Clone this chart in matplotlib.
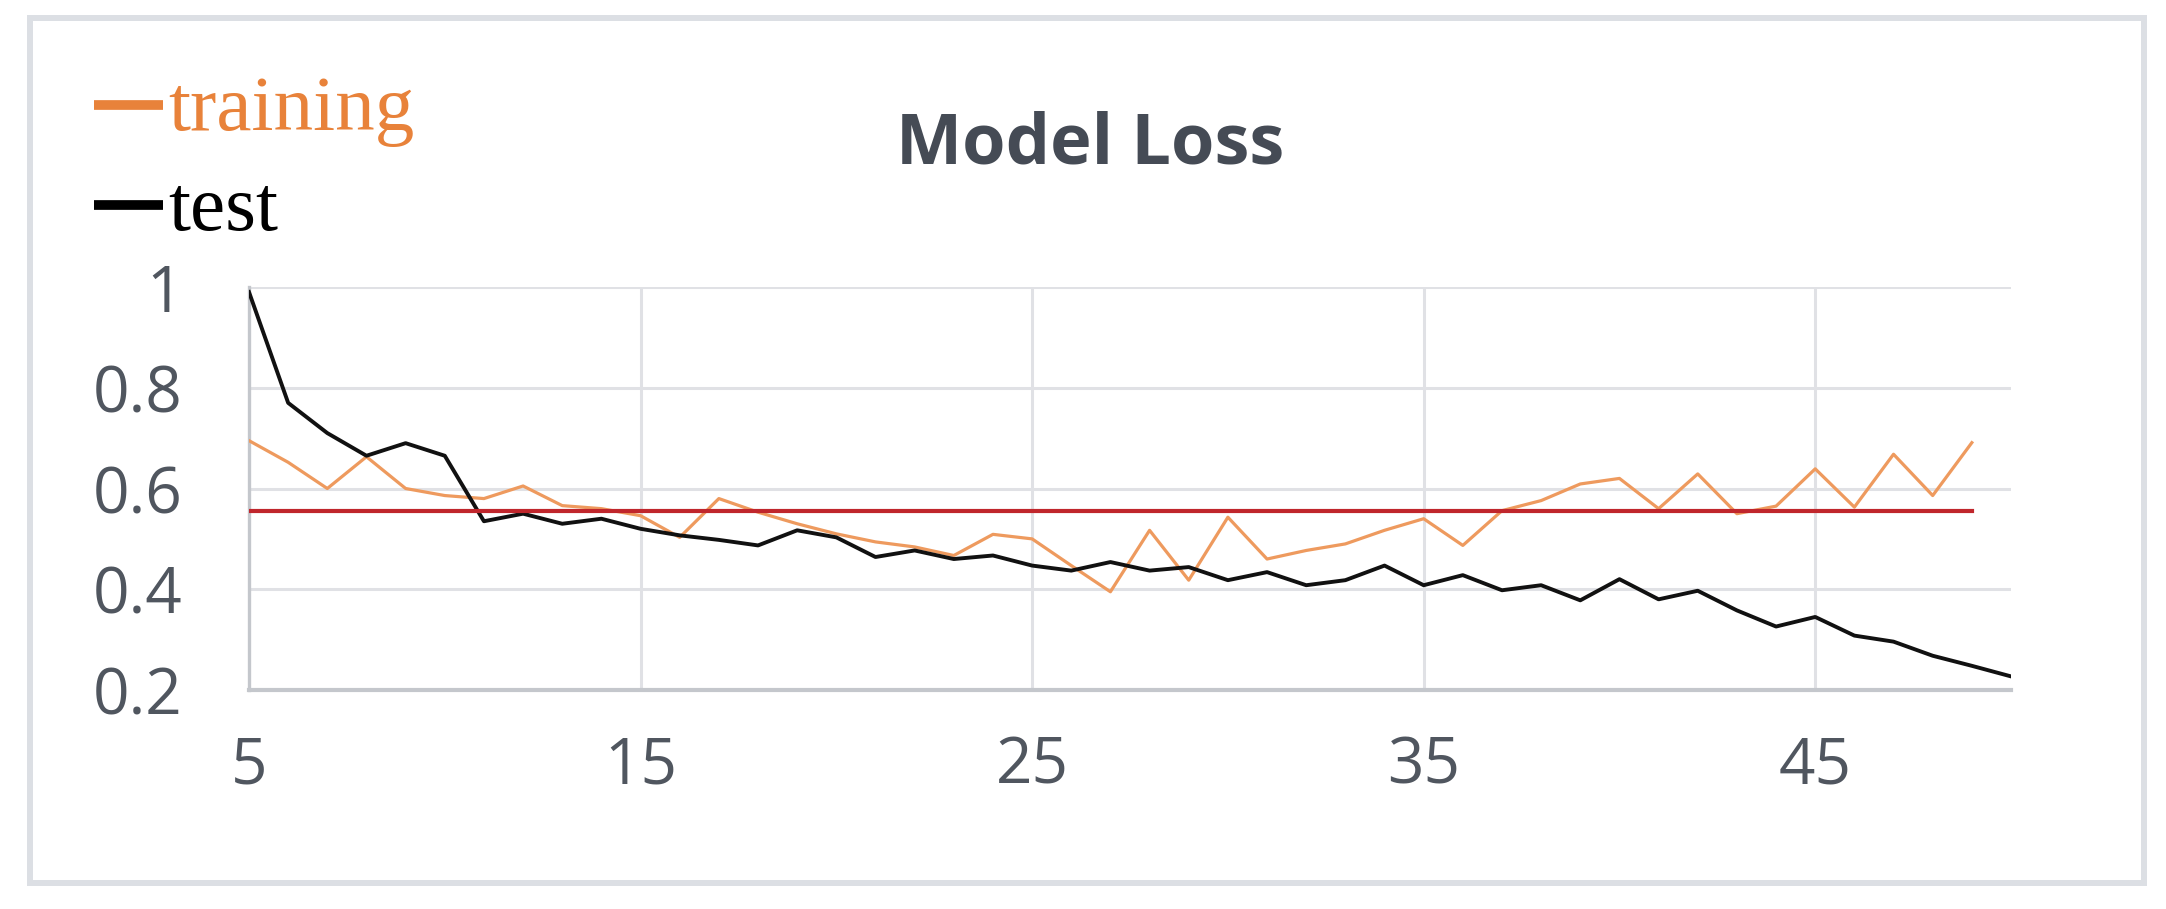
import matplotlib
matplotlib.use("Agg")
import matplotlib.pyplot as plt
from matplotlib.lines import Line2D
from matplotlib.patches import Rectangle

# ---------------- data ----------------
epochs_test = list(range(5, 51))
test_loss = [0.99, 0.77, 0.71, 0.665, 0.69, 0.665, 0.535, 0.55, 0.53, 0.54,
             0.52, 0.507, 0.498, 0.487, 0.517, 0.503, 0.464, 0.477, 0.46, 0.467,
             0.447, 0.437, 0.454, 0.437, 0.444, 0.418, 0.434, 0.408, 0.418, 0.447,
             0.408, 0.428, 0.398, 0.408, 0.378, 0.42, 0.38, 0.397, 0.358, 0.326,
             0.345, 0.308, 0.296, 0.268, 0.248, 0.227]

epochs_train = list(range(5, 50))
train_loss = [0.695, 0.652, 0.60, 0.663, 0.60, 0.586, 0.58, 0.605, 0.566, 0.56,
              0.546, 0.503, 0.58, 0.553, 0.53, 0.51, 0.494, 0.484, 0.467, 0.509,
              0.50, 0.447, 0.395, 0.517, 0.418, 0.543, 0.46, 0.477, 0.49, 0.517,
              0.54, 0.487, 0.556, 0.576, 0.609, 0.62, 0.56, 0.629, 0.55, 0.565,
              0.639, 0.563, 0.668, 0.586, 0.691]

ref_x = [5, 49]
ref_y = [0.555, 0.555]

x_ticks = [5, 15, 25, 35, 45]
y_ticks = [0.2, 0.4, 0.6, 0.8, 1.0]
y_tick_labels = ["0.2", "0.4", "0.6", "0.8", "1"]

title_text = "Model Loss"
legend_labels = ["training", "test"]

# ---------------- figure ----------------
W, H = 2166, 909
fig = plt.figure(figsize=(W / 100, H / 100), dpi=100)
fig.patch.set_facecolor("white")

def fx(px):
    return px / W

def fy(py):
    return 1 - py / H

# outer border
fig.add_artist(Rectangle((fx(30), fy(883)), fx(2144) - fx(30), fy(18) - fy(883),
                         transform=fig.transFigure, fill=False,
                         edgecolor="#DCDFE4", linewidth=4.3))

ax = fig.add_axes([fx(249), fy(690), fx(2011) - fx(249), fy(287) - fy(690)])
ax.set_xlim(5, 50)
ax.set_ylim(0.2, 1.0)

grid_c = "#E0E1E5"
for v in y_ticks[1:]:
    ax.axhline(v, color=grid_c, lw=2.2, zorder=0)
for v in x_ticks[1:]:
    ax.axvline(v, color=grid_c, lw=2.2, zorder=0)

for s in ["top", "right"]:
    ax.spines[s].set_visible(False)
ax.spines["left"].set_color("#C4C7CC")
ax.spines["left"].set_linewidth(2.4)
ax.spines["bottom"].set_color("#C4C7CC")
ax.spines["bottom"].set_linewidth(3.0)

ax.plot(epochs_train, train_loss, color="#EE9A5E", lw=2.3, zorder=3,
        solid_joinstyle="round")
ax.plot(epochs_test, test_loss, color="#111111", lw=2.8, zorder=4,
        solid_joinstyle="round")
ax.plot(ref_x, ref_y, color="#C0262C", lw=3.0, zorder=5)

tick_font = "Open Sans"
tick_color = "#50565F"
ax.set_xticks(x_ticks)
ax.set_xticklabels([str(t) for t in x_ticks])
ax.set_yticks(y_ticks)
ax.set_yticklabels(y_tick_labels)
ax.tick_params(axis="both", length=0, labelsize=46, labelcolor=tick_color)
ax.tick_params(axis="y", pad=48)
ax.tick_params(axis="x", pad=32)
for lab in ax.get_xticklabels() + ax.get_yticklabels():
    lab.set_fontfamily(tick_font)

# title
title = fig.text(fx(1090), fy(163), title_text, ha="center", va="baseline",
                 fontsize=44, fontweight="bold", color="#454B55",
                 fontfamily="Open Sans")

# legend (manual, top-left)
leg_colors = ["#E8823A", "#000000"]
leg_base = [130, 230]
leg_dash_y = [105, 205]
for lab, col, by, dy in zip(legend_labels, leg_colors, leg_base, leg_dash_y):
    fig.add_artist(Line2D([fx(94), fx(163)], [fy(dy), fy(dy)],
                          transform=fig.transFigure, color=col, lw=7,
                          solid_capstyle="butt"))
    fig.text(fx(168), fy(by), lab, ha="left", va="baseline", fontsize=57,
             color=col, fontfamily="Liberation Serif")

# fit title width to reference (~389 px)
fig.canvas.draw()
r = fig.canvas.get_renderer()
bb = title.get_window_extent(r)
title.set_fontsize(44 * 389 / bb.width)

fig.savefig("out.png", dpi=100, facecolor="white")
